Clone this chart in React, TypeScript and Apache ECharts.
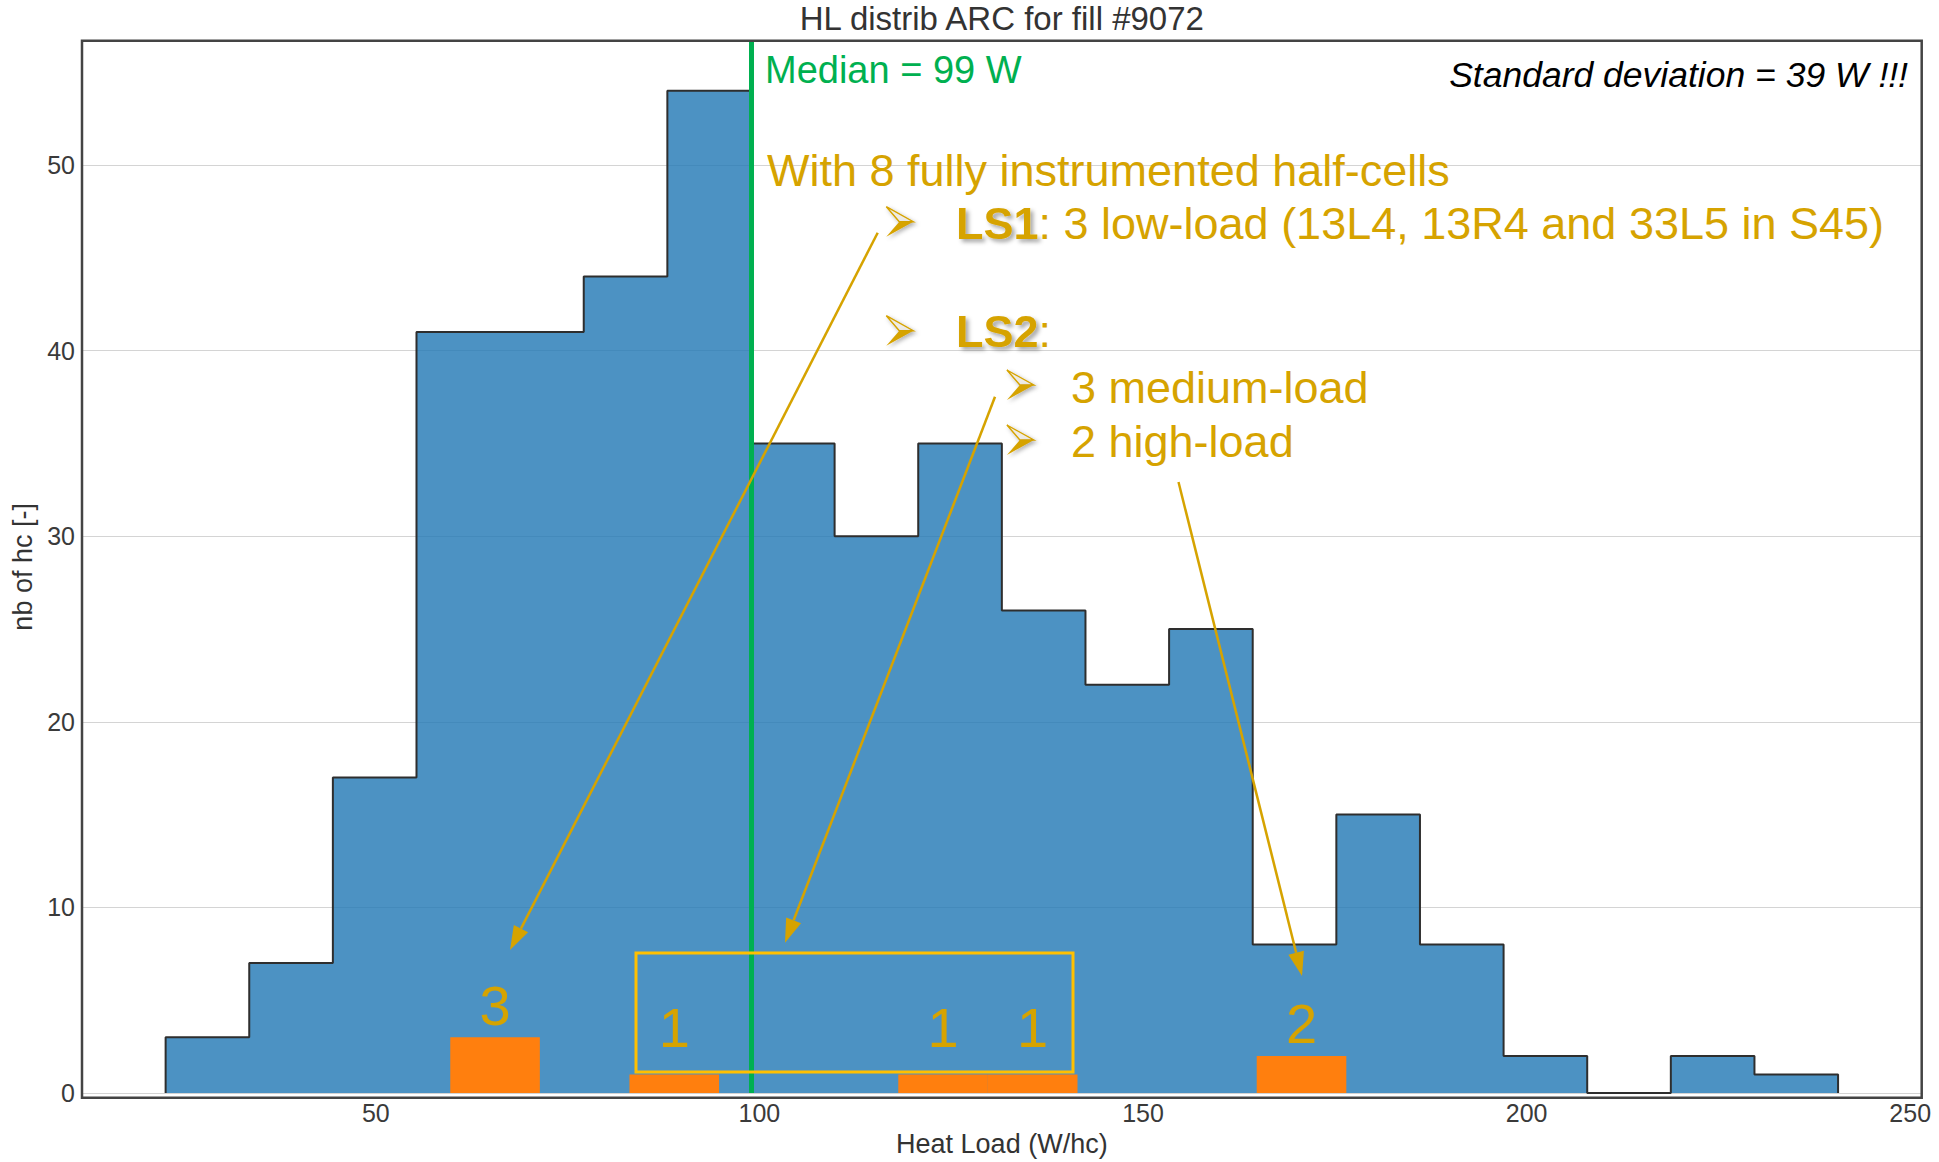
import React, { useEffect, useRef } from 'react';
import * as echarts from 'echarts';

// ---- texts ----
const TITLE = 'HL distrib ARC for fill #9072';
const X_LABEL = 'Heat Load (W/hc)';
const Y_LABEL = 'nb of hc [-]';

// ---- all ARC half-cells: 20 equal bins ----
const ALL_BIN_START = 22.6;
const ALL_BIN_WIDTH = 10.9;
const ALL_COUNTS = [3, 7, 17, 41, 41, 44, 54, 35, 30, 35, 26, 22, 25, 8, 15, 8, 2, 0, 2, 1];

// ---- fully instrumented half-cells: 10 equal bins ----
const INSTR_BIN_START = 59.7;
const INSTR_BIN_WIDTH = 11.68;
const INSTR_COUNTS = [3, 0, 1, 0, 0, 1, 1, 0, 0, 2];

// ---- statistics ----
const MEDIAN_W = 99;
const STD_W = 39;

// ---- axes ----
const X_TICKS = [50, 100, 150, 200, 250];
const Y_TICKS = [0, 10, 20, 30, 40, 50];
const X_RANGE = [11.7, 251.5];
const Y_RANGE = [0, 56.7];

// ---- styling ----
const FONT = '"Liberation Sans", Arial, Helvetica, sans-serif';
const GOLD = '#D6A300';
const BOX_YELLOW = '#FFC000';
const MEDIAN_GREEN = '#00B050';
const FRAME = '#444444';

const WIDTH = 1939;
const HEIGHT = 1162;
const GRID = { left: 82, top: 40.7, right: 17.3, bottom: 64.3 };

// outline of a step-filled histogram, as [x, y] vertices
function stepOutline(start: number, width: number, counts: number[]) {
  const pts: number[][] = [[start, 0]];
  counts.forEach((c, i) => {
    const x0 = start + i * width;
    pts.push([x0, c], [x0 + width, c]);
  });
  pts.push([start + counts.length * width, 0]);
  return pts;
}

function arrow(x1: number, y1: number, x2: number, y2: number) {
  const dx = x2 - x1;
  const dy = y2 - y1;
  const len = Math.hypot(dx, dy);
  const ux = dx / len;
  const uy = dy / len;
  const L = 24;
  const Hw = 8;
  const bx = x2 - ux * L;
  const by = y2 - uy * L;
  return [
    {
      type: 'line',
      z: 100,
      shape: { x1, y1, x2: bx, y2: by },
      style: { stroke: GOLD, lineWidth: 2.5 },
    },
    {
      type: 'polygon',
      z: 100,
      shape: { points: [[x2, y2], [bx - uy * Hw, by + ux * Hw], [bx + uy * Hw, by - ux * Hw]] },
      style: { fill: GOLD },
    },
  ];
}

// three-dimensional arrowhead bullet pointing right
function bullet(tipX: number, tipY: number) {
  const w = 27;
  const h = 15;
  const tl = [tipX - w, tipY - h];
  const bl = [tipX - w, tipY + h];
  const notch = [tipX - 14, tipY];
  const shadow = {
    shadowBlur: 4,
    shadowColor: 'rgba(0,0,0,0.3)',
    shadowOffsetX: 2,
    shadowOffsetY: 2,
  };
  return [
    {
      type: 'polygon',
      z: 100,
      shape: { points: [tl, [tipX, tipY], notch] },
      style: { fill: '#eeebe4', stroke: GOLD, lineWidth: 1.4, ...shadow },
    },
    {
      type: 'polygon',
      z: 100,
      shape: { points: [notch, [tipX, tipY], bl] },
      style: { fill: GOLD, ...shadow },
    },
  ];
}

function label(text: string, x: number, y: number, extra: Record<string, any> = {}) {
  return {
    type: 'text',
    z: 100,
    x,
    y,
    style: {
      text,
      fill: GOLD,
      fontSize: 45,
      fontFamily: FONT,
      align: 'left',
      verticalAlign: 'middle',
      ...extra,
    },
  };
}

const boldRich = {
  b: {
    fontSize: 45,
    fontFamily: FONT,
    fontWeight: 'bold',
    fill: GOLD,
    color: GOLD,
    textShadowColor: 'rgba(0,0,0,0.35)',
    textShadowBlur: 4,
    textShadowOffsetX: 3,
    textShadowOffsetY: 3,
  },
  n: { fontSize: 45, fontFamily: FONT, fill: GOLD, color: GOLD },
};

export default function App() {
  const ref = useRef<HTMLDivElement>(null);

  useEffect(() => {
    const chart = echarts.init(ref.current!, null, { renderer: 'svg' });

    const plotW = WIDTH - GRID.left - GRID.right;
    const plotH = HEIGHT - GRID.top - GRID.bottom;

    const instrData = INSTR_COUNTS.map((c, i) => [
      INSTR_BIN_START + i * INSTR_BIN_WIDTH,
      INSTR_BIN_START + (i + 1) * INSTR_BIN_WIDTH,
      c,
    ]).filter((d) => d[2] > 0);

    // lowest row the count labels sit on, in counts
    const LABEL_FLOOR = 3.52;

    const option = {
      animation: false,
      backgroundColor: '#ffffff',
      grid: { ...GRID, containLabel: false },
      xAxis: {
        type: 'value',
        min: X_RANGE[0],
        max: X_RANGE[1],
        name: X_LABEL,
        nameLocation: 'middle',
        nameGap: 37,
        nameTextStyle: { fontSize: 27, color: '#333333', fontFamily: FONT },
        axisLine: { show: false },
        axisTick: { show: false },
        splitLine: { show: false },
        axisLabel: {
          customValues: X_TICKS,
          fontSize: 25,
          color: '#3a3a3a',
          fontFamily: FONT,
          margin: 7,
        },
      },
      yAxis: {
        type: 'value',
        min: Y_RANGE[0],
        max: Y_RANGE[1],
        interval: 10,
        name: Y_LABEL,
        nameLocation: 'middle',
        nameGap: 46,
        nameTextStyle: { fontSize: 27, color: '#333333', fontFamily: FONT },
        axisLine: { show: false },
        axisTick: { show: false },
        splitLine: { show: true, lineStyle: { color: '#d4d4d4', width: 1.2 } },
        axisLabel: {
          customValues: Y_TICKS,
          fontSize: 25,
          color: '#3a3a3a',
          fontFamily: FONT,
          margin: 7,
        },
      },
      series: [
        {
          name: 'all half-cells',
          type: 'line',
          z: 2,
          data: stepOutline(ALL_BIN_START, ALL_BIN_WIDTH, ALL_COUNTS),
          showSymbol: false,
          symbol: 'none',
          lineStyle: { color: '#2e2e2e', width: 2 },
          areaStyle: { color: 'rgba(31,119,180,0.8)', opacity: 1 },
          silent: true,
        },
        {
          name: 'instrumented half-cells',
          type: 'custom',
          z: 3,
          data: instrData,
          renderItem: (params: any, api: any) => {
            const x0 = api.value(0);
            const x1 = api.value(1);
            const c = api.value(2);
            const p0 = api.coord([x0, c]);
            const p1 = api.coord([x1, 0]);
            const floorY = api.coord([x0, LABEL_FLOOR])[1];
            const ty = Math.min(p0[1] - 32, floorY);
            return {
              type: 'group',
              children: [
                {
                  type: 'rect',
                  shape: { x: p0[0], y: p0[1], width: p1[0] - p0[0], height: p1[1] - p0[1] },
                  style: { fill: '#ff7f0e' },
                },
                {
                  type: 'text',
                  x: (p0[0] + p1[0]) / 2,
                  y: ty,
                  style: {
                    text: String(c),
                    fill: GOLD,
                    fontSize: 56,
                    fontFamily: FONT,
                    align: 'center',
                    verticalAlign: 'middle',
                  },
                },
              ],
            };
          },
          markLine: {
            silent: true,
            symbol: 'none',
            label: { show: false },
            lineStyle: { color: MEDIAN_GREEN, width: 5, type: 'solid' },
            data: [{ xAxis: MEDIAN_W }],
          },
        },
      ],
      graphic: {
        elements: [
          // chart title, centred over the plot
          {
            type: 'text',
            z: 100,
            x: GRID.left + plotW / 2,
            y: 18,
            style: {
              text: TITLE,
              fill: '#333333',
              fontSize: 33,
              fontFamily: FONT,
              align: 'center',
              verticalAlign: 'middle',
            },
          },
          // plot frame
          {
            type: 'rect',
            z: 110,
            shape: { x: GRID.left, y: GRID.top, width: plotW, height: plotH },
            style: { fill: 'none', stroke: FRAME, lineWidth: 2.5 },
          },
          // highlighted medium-load group
          {
            type: 'rect',
            z: 100,
            shape: { x: 636, y: 953, width: 437, height: 119 },
            style: { fill: 'none', stroke: BOX_YELLOW, lineWidth: 3 },
          },
          ...arrow(877.7, 232.7, 510, 950),
          ...arrow(995, 396.7, 785, 942.7),
          ...arrow(1178.5, 482, 1302, 976),
          ...bullet(913.3, 221.7),
          ...bullet(913.3, 330.7),
          ...bullet(1033.9, 385),
          ...bullet(1033.9, 440),
          label(`Median = ${MEDIAN_W} W`, 765, 70, { fill: MEDIAN_GREEN, fontSize: 38 }),
          label(`Standard deviation = ${STD_W} W !!!`, 1908, 75, {
            fill: '#000000',
            fontSize: 35.5,
            fontStyle: 'italic',
            align: 'right',
          }),
          label('With 8 fully instrumented half-cells', 767, 170),
          {
            type: 'text',
            z: 100,
            x: 956,
            y: 223,
            style: {
              text: '{b|LS1}{n|: 3 low-load (13L4, 13R4 and 33L5 in S45)}',
              rich: boldRich,
              fill: GOLD,
              align: 'left',
              verticalAlign: 'middle',
            },
          },
          {
            type: 'text',
            z: 100,
            x: 956,
            y: 331,
            style: {
              text: '{b|LS2}{n|:}',
              rich: boldRich,
              fill: GOLD,
              align: 'left',
              verticalAlign: 'middle',
            },
          },
          label('3 medium-load', 1071, 387),
          label('2 high-load', 1071, 441),
        ],
      },
    };

    chart.setOption(option as any);
    return () => chart.dispose();
  }, []);

  return (
    <div
      ref={ref}
      style={{ position: 'fixed', left: 0, top: 0, width: WIDTH, height: HEIGHT, background: '#fff' }}
    />
  );
}
